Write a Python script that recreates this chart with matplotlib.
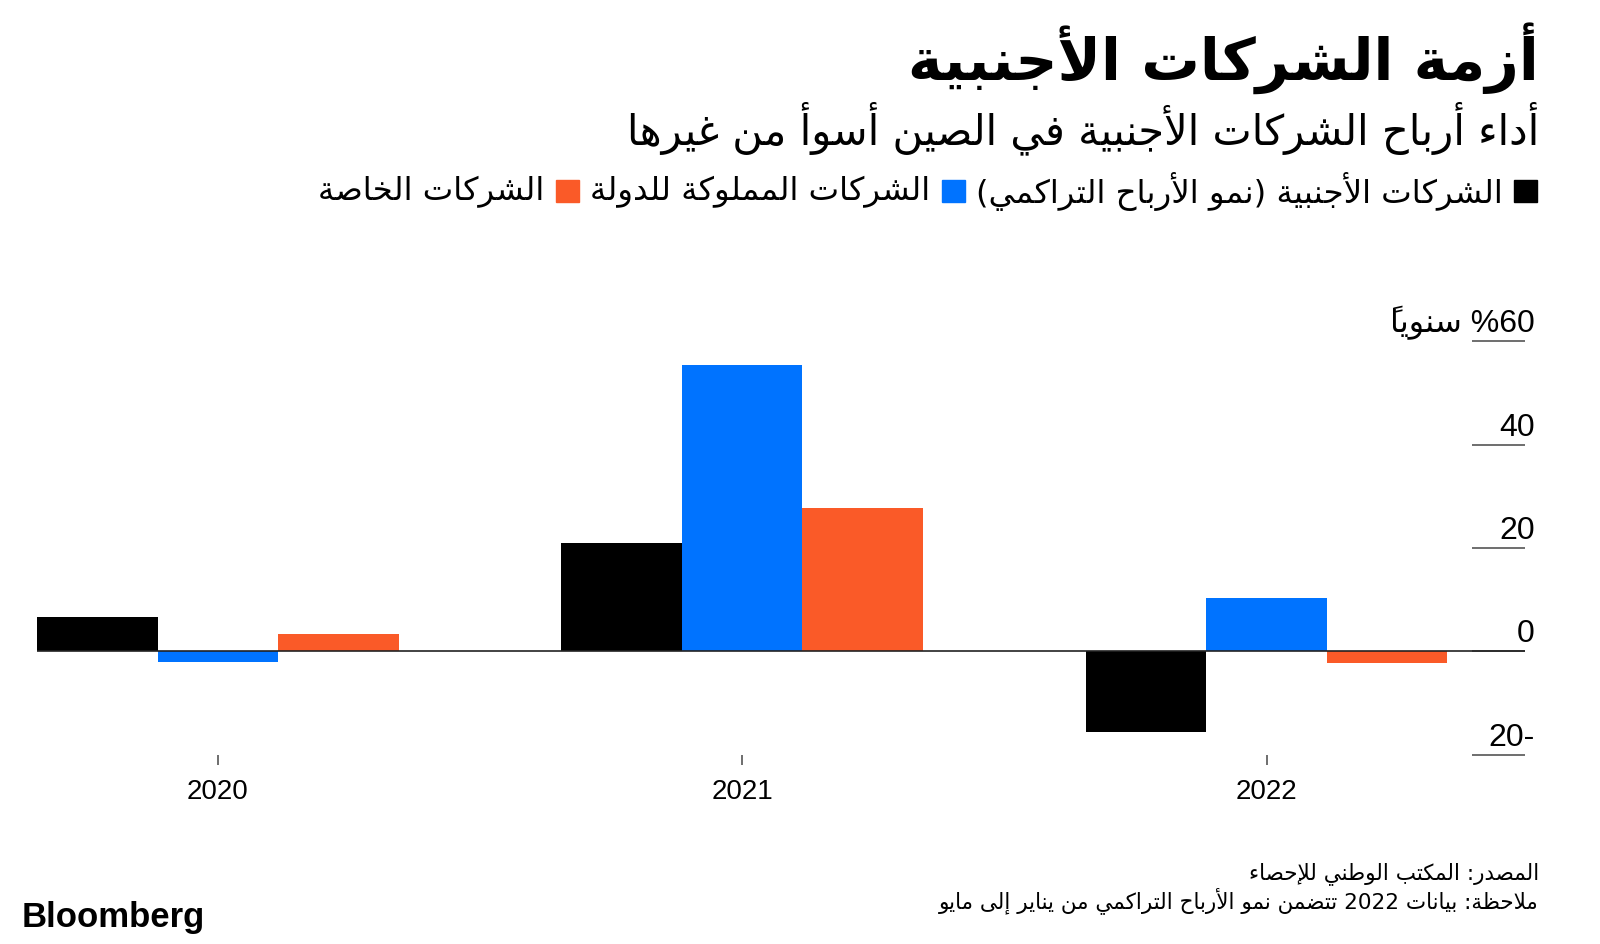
import numpy as np
import matplotlib
matplotlib.use("Agg")
import matplotlib.pyplot as plt
import matplotlib.transforms as mtransforms
from matplotlib.patches import Rectangle

# data
years = ['2020', '2021', '2022']
foreign = [6.7, 21.0, -15.7]     # الشركات الأجنبية
state = [-2.1, 55.5, 10.4]       # الشركات المملوكة للدولة
private = [3.3, 27.7, -2.2]      # الشركات الخاصة
yticks = [-20, 0, 20, 40, 60]
ytick_labels = ['-20', '0', '20', '40', '60% سنوياً']

title = 'أزمة الشركات الأجنبية'
subtitle = 'أداء أرباح الشركات الأجنبية في الصين أسوأ من غيرها'
legend_labels = ['الشركات الأجنبية (نمو الأرباح التراكمي)',
                 'الشركات المملوكة للدولة',
                 'الشركات الخاصة']
colors = ['#000000', '#0073ff', '#fa5a28']
source = 'المصدر: المكتب الوطني للإحصاء'
note = 'ملاحظة: بيانات 2022 تتضمن نمو الأرباح التراكمي من يناير إلى مايو'

# --- minimal arabic shaping (matplotlib has no complex text layout) ---
FORMS = {
    '\u0621': (0xFE80,),
    '\u0622': (0xFE81, 0xFE82), '\u0623': (0xFE83, 0xFE84),
    '\u0624': (0xFE85, 0xFE86), '\u0625': (0xFE87, 0xFE88),
    '\u0626': (0xFE89, 0xFE8A, 0xFE8B, 0xFE8C),
    '\u0627': (0xFE8D, 0xFE8E),
    '\u0628': (0xFE8F, 0xFE90, 0xFE91, 0xFE92),
    '\u0629': (0xFE93, 0xFE94),
    '\u062A': (0xFE95, 0xFE96, 0xFE97, 0xFE98),
    '\u062B': (0xFE99, 0xFE9A, 0xFE9B, 0xFE9C),
    '\u062C': (0xFE9D, 0xFE9E, 0xFE9F, 0xFEA0),
    '\u062D': (0xFEA1, 0xFEA2, 0xFEA3, 0xFEA4),
    '\u062E': (0xFEA5, 0xFEA6, 0xFEA7, 0xFEA8),
    '\u062F': (0xFEA9, 0xFEAA), '\u0630': (0xFEAB, 0xFEAC),
    '\u0631': (0xFEAD, 0xFEAE), '\u0632': (0xFEAF, 0xFEB0),
    '\u0633': (0xFEB1, 0xFEB2, 0xFEB3, 0xFEB4),
    '\u0634': (0xFEB5, 0xFEB6, 0xFEB7, 0xFEB8),
    '\u0635': (0xFEB9, 0xFEBA, 0xFEBB, 0xFEBC),
    '\u0636': (0xFEBD, 0xFEBE, 0xFEBF, 0xFEC0),
    '\u0637': (0xFEC1, 0xFEC2, 0xFEC3, 0xFEC4),
    '\u0638': (0xFEC5, 0xFEC6, 0xFEC7, 0xFEC8),
    '\u0639': (0xFEC9, 0xFECA, 0xFECB, 0xFECC),
    '\u063A': (0xFECD, 0xFECE, 0xFECF, 0xFED0),
    '\u0641': (0xFED1, 0xFED2, 0xFED3, 0xFED4),
    '\u0642': (0xFED5, 0xFED6, 0xFED7, 0xFED8),
    '\u0643': (0xFED9, 0xFEDA, 0xFEDB, 0xFEDC),
    '\u0644': (0xFEDD, 0xFEDE, 0xFEDF, 0xFEE0),
    '\u0645': (0xFEE1, 0xFEE2, 0xFEE3, 0xFEE4),
    '\u0646': (0xFEE5, 0xFEE6, 0xFEE7, 0xFEE8),
    '\u0647': (0xFEE9, 0xFEEA, 0xFEEB, 0xFEEC),
    '\u0648': (0xFEED, 0xFEEE),
    '\u0649': (0xFEEF, 0xFEF0),
    '\u064A': (0xFEF1, 0xFEF2, 0xFEF3, 0xFEF4),
}
LAM_ALEF = {'\u0622': 0xFEF5, '\u0623': 0xFEF7, '\u0625': 0xFEF9, '\u0627': 0xFEFB}
MIRROR = {'(': ')', ')': '('}


def is_mark(c):
    return '\u064B' <= c <= '\u0652'


def ar(text):
    toks = []
    i = 0
    while i < len(text):
        c = text[i]
        if c == '\u0644' and i + 1 < len(text) and text[i + 1] in LAM_ALEF:
            toks.append(('LA', LAM_ALEF[text[i + 1]]))
            i += 2
        else:
            toks.append((c, None))
            i += 1

    def jtype(t):
        c = t[0]
        if c == 'LA':
            return 'R'
        if c in FORMS:
            return {4: 'D', 2: 'R'}.get(len(FORMS[c]), 'U')
        if is_mark(c):
            return 'T'
        return 'U'

    types = [jtype(t) for t in toks]
    shaped = []
    for k, t in enumerate(toks):
        ty = types[k]
        if ty in 'DR':
            p = k - 1
            while p >= 0 and types[p] == 'T':
                p -= 1
            n = k + 1
            while n < len(toks) and types[n] == 'T':
                n += 1
            jp = p >= 0 and types[p] == 'D'
            jn = ty == 'D' and n < len(toks) and types[n] in 'DR'
            if t[0] == 'LA':
                shaped.append(chr(t[1] + (1 if jp else 0)))
            else:
                idx = 3 if (jp and jn) else 1 if jp else 2 if jn else 0
                shaped.append(chr(FORMS[t[0]][idx]))
        elif t[0] in FORMS:
            shaped.append(chr(FORMS[t[0]][0]))
        else:
            shaped.append(t[0])

    clusters = []
    for ch in shaped:
        if clusters and is_mark(ch):
            clusters[-1] += ch
        else:
            clusters.append(ch)
    vis, run = [], []
    for cl in reversed(clusters):
        if cl.isascii() and cl.isalnum():
            run.insert(0, cl)
        else:
            vis.extend(run)
            run = []
            # marks go before their base in visual order (font draws them to the right)
            vis.append(cl[1:] + cl[0] if len(cl) > 1 else MIRROR.get(cl, cl))
    vis.extend(run)
    return ''.join(vis)


AR = ['DejaVu Sans']
LAT = ['Liberation Sans', 'DejaVu Sans']
W, H = 1600, 945


def fx(x):
    return x / W


def fy(y):
    return 1 - y / H


fig = plt.figure(figsize=(16, 9.45), dpi=100)
fig.patch.set_facecolor('white')

ax = fig.add_axes([fx(37), fy(755.7), fx(1525) - fx(37), fy(342.3) - fy(755.7)])

x = np.arange(len(years))
bw = 0.23
ax.bar(x - bw, foreign, bw, color=colors[0], zorder=2)
ax.bar(x, state, bw, color=colors[1], zorder=2)
ax.bar(x + bw, private, bw, color=colors[2], zorder=2)
ax.axhline(0, color='#222222', lw=1.2, zorder=3)

ax.set_xlim(-0.345, 2.493)
ax.set_ylim(-20, 60)
for s in ax.spines.values():
    s.set_visible(False)

ax.set_xticks(x)
ax.set_xticklabels(years, fontsize=20, family=LAT)
ax.tick_params(axis='x', direction='out', length=7, width=1.2, color='#555555', pad=10)

ax.yaxis.set_ticks_position('right')
ax.set_yticks(yticks)
ax.set_yticklabels([])
ax.tick_params(axis='y', direction='in', length=38, width=1.2, color='#555555')
off = mtransforms.ScaledTranslation(10 / 100, 10 / 100, fig.dpi_scale_trans)
tr = mtransforms.blended_transform_factory(ax.transAxes, ax.transData) + off
for v, lab in zip(yticks, ytick_labels):
    ax.text(1.0, v, ar(lab), transform=tr, ha='right', va='baseline',
            fontsize=23, family=LAT)

# headings
fig.text(fx(1539), fy(58), ar(title), ha='right', va='center',
         fontsize=42, fontweight='bold', family=AR)
fig.text(fx(1539), fy(128), ar(subtitle), ha='right', va='center',
         fontsize=30, family=AR)

# legend, built right to left
fig.canvas.draw()
rend = fig.canvas.get_renderer()
xr = 1537
sq = 22.7
for lab, col in zip(legend_labels, colors):
    fig.patches.append(Rectangle((fx(xr - sq), fy(192 + sq / 2)), fx(sq), sq / H,
                                 transform=fig.transFigure, color=col, figure=fig))
    t = fig.text(fx(xr - sq - 12), fy(192), ar(lab), ha='right', va='center',
                 fontsize=23.3, family=AR)
    bb = t.get_window_extent(renderer=rend)
    xr = xr - sq - 12 - bb.width - 11

# footer
fig.text(fx(1539), fy(874), ar(source), ha='right', va='center', fontsize=15.5, family=AR)
fig.text(fx(1539), fy(901), ar(note), ha='right', va='center', fontsize=15.5, family=AR)
fig.text(fx(22), fy(918), 'Bloomberg', ha='left', va='center', fontsize=25,
         fontweight='bold', family=LAT)

fig.savefig('out.png', dpi=100, facecolor='white')
